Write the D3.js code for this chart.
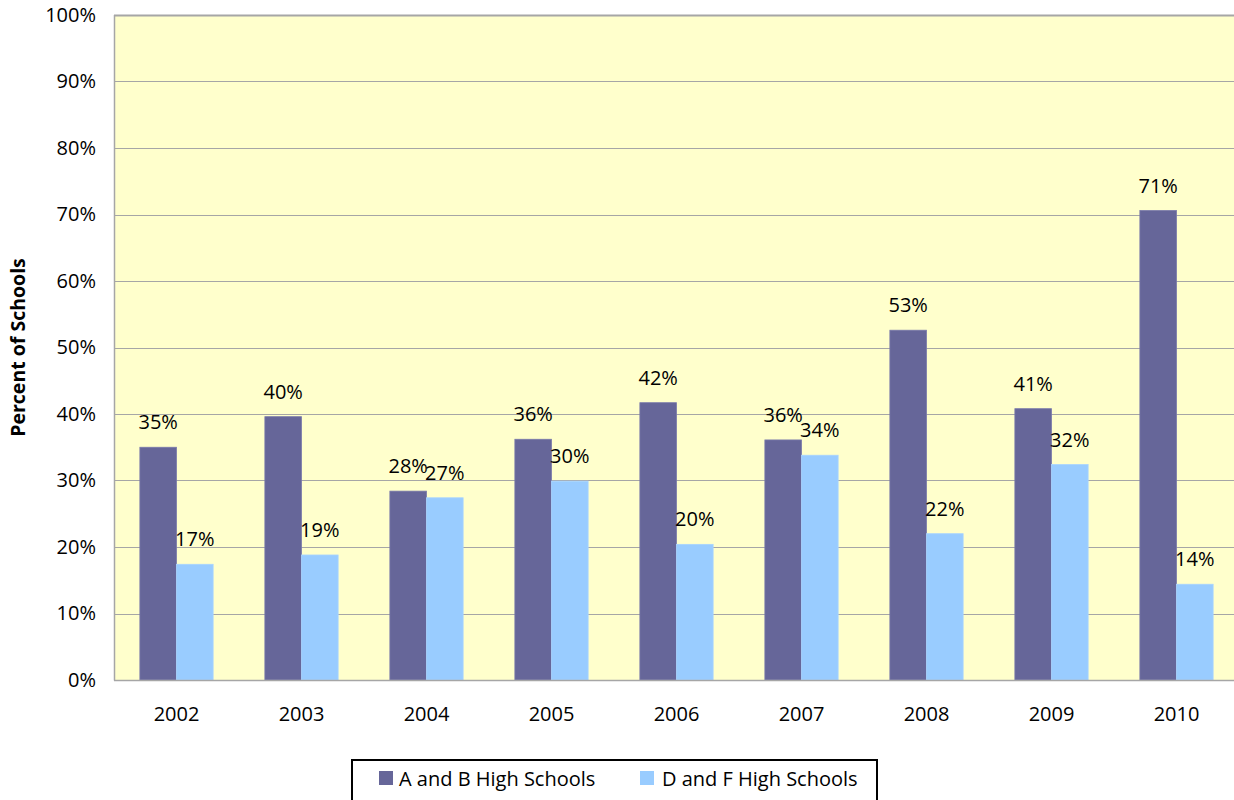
<!DOCTYPE html>
<html>
<head>
<meta charset="utf-8">
<script src="https://cdn.jsdelivr.net/npm/d3@7"></script>
<style>
  html, body { margin: 0; padding: 0; background: #ffffff; }
  svg { display: block; font-family: "Open Sans", "Noto Sans", sans-serif; }
</style>
</head>
<body>
<svg id="chart" width="1234" height="800"></svg>
<script>
// School grade shares by year
const years = ["2002", "2003", "2004", "2005", "2006", "2007", "2008", "2009", "2010"];
const seriesNames = ["A and B High Schools", "D and F High Schools"];
const abValues = [0.350, 0.396, 0.284, 0.362, 0.417, 0.361, 0.526, 0.408, 0.706];
const dfValues = [0.174, 0.188, 0.274, 0.299, 0.204, 0.338, 0.220, 0.324, 0.144];
const yTicks = [0, 0.1, 0.2, 0.3, 0.4, 0.5, 0.6, 0.7, 0.8, 0.9, 1.0];
const seriesColors = ["#666699", "#99ccff"];
const yTitle = "Percent of Schools";

const svg = d3.select("#chart");
const plot = { left: 114, top: 15, right: 1239, bottom: 680 };
const fontSize = 20;

const x = d3.scaleBand().domain(years).range([plot.left, plot.right]).padding(0);
const inner = d3.scaleBand().domain(seriesNames)
  .range([x.bandwidth() * 0.207, x.bandwidth() * 0.793]).padding(0);
const y = d3.scaleLinear().domain([0, 1]).range([plot.bottom, plot.top]);
const pct = d3.format(".0%");

// plot background
svg.append("rect")
  .attr("x", plot.left).attr("y", plot.top)
  .attr("width", plot.right - plot.left).attr("height", plot.bottom - plot.top)
  .attr("fill", "#ffffcc");

// horizontal gridlines
svg.append("g")
  .selectAll("line")
  .data(yTicks)
  .join("line")
  .attr("x1", plot.left).attr("x2", plot.right)
  .attr("y1", d => Math.round(y(d)) + 0.5).attr("y2", d => Math.round(y(d)) + 0.5)
  .attr("stroke", "#a6a6a6").attr("stroke-width", d => d === 1 ? 2 : 1);

// left border of the plot area
svg.append("line")
  .attr("x1", plot.left + 0.5).attr("x2", plot.left + 0.5)
  .attr("y1", plot.top).attr("y2", plot.bottom + 0.5)
  .attr("stroke", "#a6a6a6").attr("stroke-width", 1.5);

// y axis labels
const yAxis = d3.axisLeft(y).tickValues(yTicks).tickFormat(pct).tickSize(0).tickPadding(18);
const gy = svg.append("g").attr("transform", `translate(${plot.left},0)`).call(yAxis);
gy.select(".domain").remove();
gy.selectAll("text")
  .attr("font-size", fontSize).attr("fill", "#000")
  .attr("font-family", "'Open Sans', sans-serif");

// x axis labels
const xAxis = d3.axisBottom(x).tickSize(0).tickPadding(27);
const gx = svg.append("g").attr("transform", `translate(0,${plot.bottom})`).call(xAxis);
gx.select(".domain").remove();
gx.selectAll("text")
  .attr("font-size", fontSize).attr("fill", "#000")
  .attr("font-family", "'Open Sans', sans-serif");

// bars
const rows = years.map((yr, i) => ({ year: yr, vals: [abValues[i], dfValues[i]] }));
const groups = svg.append("g").selectAll("g")
  .data(rows).join("g")
  .attr("transform", d => `translate(${x(d.year)},0)`);

groups.selectAll("rect")
  .data(d => d.vals.map((v, k) => ({ name: seriesNames[k], v, k })))
  .join("rect")
  .attr("x", d => inner(d.name))
  .attr("y", d => y(d.v))
  .attr("width", inner.bandwidth())
  .attr("height", d => y(0) - y(d.v))
  .attr("fill", d => seriesColors[d.k])
  .attr("stroke", d => d.k === 0 ? "#7a7aab" : "#a8d4ff")
  .attr("stroke-width", 0.8);

// value labels above bars
groups.selectAll("text.val")
  .data(d => d.vals.map((v, k) => ({ name: seriesNames[k], v, k })))
  .join("text")
  .attr("class", "val")
  .attr("x", d => inner(d.name) + inner.bandwidth() / 2)
  .attr("y", d => y(d.v) - 18)
  .attr("text-anchor", "middle")
  .attr("font-size", fontSize)
  .attr("fill", "#000")
  .text(d => pct(d.v));

// x axis baseline
svg.append("line")
  .attr("x1", plot.left).attr("x2", plot.right)
  .attr("y1", plot.bottom + 0.5).attr("y2", plot.bottom + 0.5)
  .attr("stroke", "#a6a6a6").attr("stroke-width", 1.5);

// y axis title
svg.append("text")
  .attr("transform", `translate(25,${(plot.top + plot.bottom) / 2}) rotate(-90)`)
  .attr("text-anchor", "middle")
  .attr("font-size", 19.5)
  .attr("font-weight", "bold")
  .attr("fill", "#000")
  .text(yTitle);

// legend
const legend = svg.append("g");
legend.append("rect")
  .attr("x", 352).attr("y", 760)
  .attr("width", 525).attr("height", 60)
  .attr("fill", "#fff").attr("stroke", "#000").attr("stroke-width", 2);

const legendItems = [
  { name: seriesNames[0], color: seriesColors[0], sx: 379, tx: 399 },
  { name: seriesNames[1], color: seriesColors[1], sx: 640, tx: 662 }
];
const li = legend.selectAll("g.item").data(legendItems).join("g").attr("class", "item");
li.append("rect")
  .attr("x", d => d.sx).attr("y", 771)
  .attr("width", 14).attr("height", 14)
  .attr("fill", d => d.color);
li.append("text")
  .attr("x", d => d.tx).attr("y", 786)
  .attr("font-size", fontSize)
  .attr("fill", "#000")
  .text(d => d.name);
</script>
</body>
</html>
